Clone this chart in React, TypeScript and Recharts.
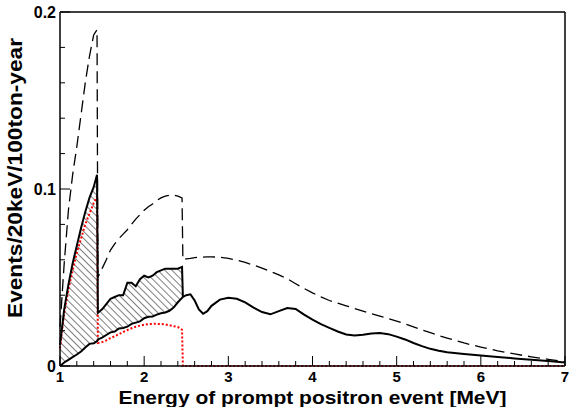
import React from 'react';
import { ComposedChart, Line, Area, XAxis, YAxis, ReferenceLine, Label } from 'recharts';

// prompt energy grid [MeV]; the pairs 1.44/1.45 and 2.45/2.46 carry the spectrum edges
const energy = [
  1.0, 1.05, 1.1, 1.15, 1.2, 1.25, 1.3, 1.35, 1.4, 1.44, 1.45,
  1.5, 1.55, 1.6, 1.65, 1.7, 1.75, 1.8, 1.85, 1.9, 1.95,
  2.0, 2.05, 2.1, 2.15, 2.2, 2.25, 2.3, 2.35, 2.4, 2.45, 2.46,
  2.5, 2.55, 2.6, 2.65, 2.7, 2.75, 2.8, 2.9,
  3.0, 3.1, 3.2, 3.3, 3.4, 3.5, 3.6, 3.7, 3.8, 3.9,
  4.0, 4.1, 4.2, 4.3, 4.4, 4.5, 4.6, 4.7, 4.8, 4.9,
  5.0, 5.1, 5.2, 5.3, 5.4, 5.5, 5.6, 5.8,
  6.0, 6.2, 6.4, 6.6, 6.8, 7.0,
];

// reactor spectrum with oscillation (solid)
const reactor = [
  0.0, 0.002, 0.0035, 0.005, 0.0065, 0.0082, 0.0105, 0.0125, 0.0128, 0.014, 0.015,
  0.016, 0.0175, 0.019, 0.0195, 0.0212, 0.0215, 0.0222, 0.0238, 0.0245, 0.0252,
  0.027, 0.0278, 0.028, 0.029, 0.0298, 0.0302, 0.0312, 0.033, 0.036, 0.0385, 0.039,
  0.04, 0.0405, 0.037, 0.032, 0.0295, 0.031, 0.034, 0.0375,
  0.0385, 0.038, 0.036, 0.033, 0.0305, 0.0292, 0.031, 0.0327, 0.0322, 0.029,
  0.0262, 0.0237, 0.0215, 0.0195, 0.0178, 0.0172, 0.0177, 0.0184, 0.0186, 0.018,
  0.0166, 0.015, 0.013, 0.0112, 0.0097, 0.0086, 0.0078, 0.0068,
  0.006, 0.0051, 0.0043, 0.0035, 0.0028, 0.002,
];

// geo-neutrino signal (red dotted)
const geo = [
  0.01, 0.03, 0.043, 0.054, 0.064, 0.072, 0.08, 0.086, 0.092, 0.096, 0.013,
  0.0135, 0.0145, 0.0158, 0.0168, 0.018, 0.0192, 0.0203, 0.0213, 0.0222, 0.0228,
  0.0233, 0.0237, 0.0238, 0.0238, 0.0237, 0.0235, 0.023, 0.0225, 0.022, 0.0205, 0,
  0, 0, 0, 0, 0, 0, 0, 0,
  0, 0, 0, 0, 0, 0, 0, 0, 0, 0,
  0, 0, 0, 0, 0, 0, 0, 0, 0, 0,
  0, 0, 0, 0, 0, 0, 0, 0,
  0, 0, 0, 0, 0, 0,
];

// reactor + geo, top edge of the hatched band
const withGeo = [
  0.012, 0.032, 0.046, 0.058, 0.068, 0.078, 0.087, 0.095, 0.101, 0.108, 0.03,
  0.032, 0.035, 0.038, 0.039, 0.04, 0.04, 0.047, 0.047, 0.045, 0.049,
  0.051, 0.05, 0.051, 0.053, 0.054, 0.055, 0.055, 0.055, 0.055, 0.056, 0.039,
];

// no-oscillation expectation (dashed)
const noOsc = [
  0.022, 0.058, 0.088, 0.108, 0.124, 0.142, 0.16, 0.175, 0.187, 0.19, 0.05,
  0.055, 0.06, 0.0655, 0.069, 0.072, 0.0745, 0.077, 0.08, 0.083, 0.0855,
  0.088, 0.09, 0.0915, 0.0935, 0.095, 0.096, 0.0965, 0.0966, 0.096, 0.095, 0.06,
  0.0605, 0.0608, 0.0612, 0.0614, 0.0615, 0.0616, 0.0617, 0.0614,
  0.0608, 0.0598, 0.0585, 0.057, 0.0553, 0.0535, 0.0515, 0.0493, 0.0465, 0.0438,
  0.0413, 0.039, 0.037, 0.0355, 0.034, 0.0325, 0.031, 0.0296, 0.0282, 0.0268,
  0.0254, 0.0238, 0.0221, 0.0204, 0.0188, 0.0172, 0.0158, 0.013,
  0.0107, 0.0086, 0.0068, 0.0052, 0.0038, 0.0024,
];

const xTicks = [
  1, 1.2, 1.4, 1.6, 1.8, 2, 2.2, 2.4, 2.6, 2.8, 3, 3.2, 3.4, 3.6, 3.8, 4,
  4.2, 4.4, 4.6, 4.8, 5, 5.2, 5.4, 5.6, 5.8, 6, 6.2, 6.4, 6.6, 6.8, 7,
];
const xLabels = [1, 2, 3, 4, 5, 6, 7];
const yTicks = [0, 0.02, 0.04, 0.06, 0.08, 0.1, 0.12, 0.14, 0.16, 0.18, 0.2];
const yLabels = [0, 0.1, 0.2];

const rows = energy.map((e, i) => ({
  e,
  reactor: reactor[i],
  geo: geo[i],
  upper: i < withGeo.length ? withGeo[i] : null,
  band: i < withGeo.length ? [reactor[i], withGeo[i]] : null,
  total: noOsc[i],
}));

const font = "'Liberation Sans', Arial, Helvetica, sans-serif";

const XTick = (props: any) => {
  const { x, y, payload } = props;
  const major = xLabels.some((v) => Math.abs(v - payload.value) < 1e-6);
  return (
    <g>
      <line x1={x} x2={x} y1={y} y2={y - (major ? 10 : 5)} stroke="#000" strokeWidth={1} />
      {major && (
        <text x={x} y={y + 16} textAnchor="middle" fontFamily={font} fontWeight="bold" fontSize={15} fill="#000">
          {payload.value}
        </text>
      )}
    </g>
  );
};

const YTick = (props: any) => {
  const { x, y, payload } = props;
  const major = yLabels.some((v) => Math.abs(v - payload.value) < 1e-6);
  return (
    <g>
      <line x1={x} x2={x + (major ? 10 : 5)} y1={y} y2={y} stroke="#000" strokeWidth={1} />
      {major && (
        <text x={x - 4} y={y + 6} textAnchor="end" fontFamily={font} fontWeight="bold" fontSize={16} fill="#000">
          {payload.value}
        </text>
      )}
    </g>
  );
};

export default function App() {
  return (
    <div style={{ position: 'absolute', left: 0, top: 0, width: 569, height: 407, background: '#fff' }}>
      <ComposedChart width={569} height={407} data={rows} margin={{ top: 12, right: 4, bottom: 0, left: 0 }}>
        <defs>
          <pattern id="hatch" width="5" height="5" patternUnits="userSpaceOnUse" patternTransform="rotate(-45)">
            <line x1="0" y1="0" x2="0" y2="5" stroke="#000" strokeWidth={1} />
          </pattern>
        </defs>
        <XAxis
          dataKey="e"
          type="number"
          domain={[1, 7]}
          ticks={xTicks}
          interval={0}
          height={41}
          tickSize={0}
          tickMargin={0}
          tickLine={false}
          tick={XTick}
          axisLine={{ stroke: '#000', strokeWidth: 1.5 }}
        >
          <Label
            content={(p: any) => {
              const vb = p.viewBox;
              return (
                <text
                  x={vb.x + vb.width / 2}
                  y={vb.y + 38}
                  textAnchor="middle"
                  fontFamily={font}
                  fontWeight="bold"
                  fontSize={19}
                  textLength={388}
                  lengthAdjust="spacingAndGlyphs"
                  fill="#000"
                >
                  Energy of prompt positron event [MeV]
                </text>
              );
            }}
          />
        </XAxis>
        <YAxis
          type="number"
          domain={[0, 0.2]}
          ticks={yTicks}
          interval={0}
          width={60}
          tickSize={0}
          tickMargin={0}
          tickLine={false}
          tick={YTick}
          axisLine={{ stroke: '#000', strokeWidth: 1.5 }}
        >
          <Label
            content={(p: any) => {
              const vb = p.viewBox;
              return (
                <text
                  transform={`translate(${vb.x + 22},${vb.y + vb.height / 2 - 11}) rotate(-90)`}
                  textAnchor="middle"
                  fontFamily={font}
                  fontWeight="bold"
                  fontSize={20}
                  textLength={280}
                  lengthAdjust="spacingAndGlyphs"
                  fill="#000"
                >
                  Events/20keV/100ton-year
                </text>
              );
            }}
          />
        </YAxis>
        <ReferenceLine y={0.2} stroke="#000" strokeWidth={1.5} />
        <ReferenceLine x={7} stroke="#000" strokeWidth={1.5} />
        <Area
          type="linear"
          dataKey="band"
          stroke="none"
          fill="url(#hatch)"
          fillOpacity={1}
          isAnimationActive={false}
          activeDot={false}
        />
        <Line type="linear" dataKey="geo" stroke="#ff0000" strokeWidth={2} strokeDasharray="2 2" dot={false} isAnimationActive={false} />
        <Line type="linear" dataKey="reactor" stroke="#000" strokeWidth={2} dot={false} isAnimationActive={false} />
        <Line type="linear" dataKey="upper" stroke="#000" strokeWidth={2} dot={false} isAnimationActive={false} />
        <Line type="linear" dataKey="total" stroke="#000" strokeWidth={1.3} strokeDasharray="12 6" dot={false} isAnimationActive={false} />
      </ComposedChart>
    </div>
  );
}
